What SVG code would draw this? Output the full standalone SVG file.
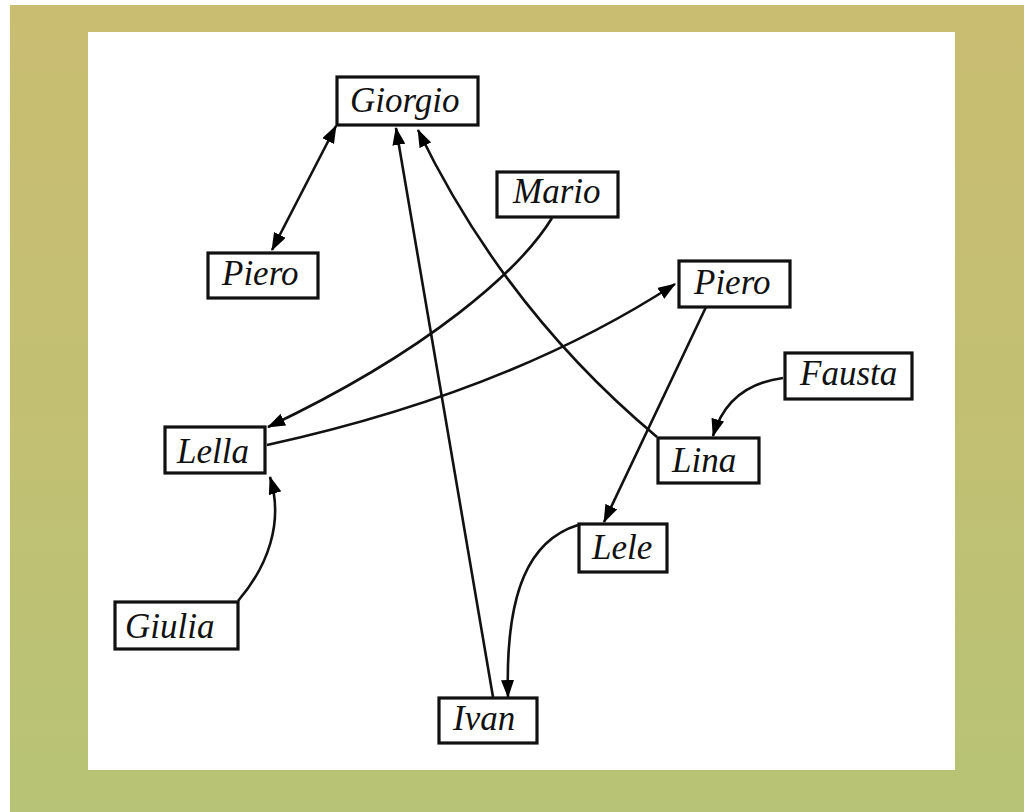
<svg xmlns="http://www.w3.org/2000/svg" width="1024" height="812" viewBox="0 0 1024 812">
<defs>
<linearGradient id="bg" x1="0" y1="0" x2="0" y2="1">
<stop offset="0" stop-color="#c9bd72"/>
<stop offset="0.5" stop-color="#c2bf72"/>
<stop offset="1" stop-color="#b7c376"/>
</linearGradient>
<marker id="ah" markerWidth="18" markerHeight="13" refX="17" refY="6.5" orient="auto-start-reverse" markerUnits="userSpaceOnUse">
<path d="M0,0 L18,6.5 L0,13 z" fill="#000"/>
</marker>
<style>
.box{fill:#fff;stroke:#111;stroke-width:3.2}
.lbl{font-family:"Liberation Serif","Times New Roman",serif;font-style:italic;font-size:35px;fill:#111}
.edge{fill:none;stroke:#111;stroke-width:2.6}
</style>
</defs>
<rect x="0" y="0" width="1024" height="812" fill="#fff"/>
<rect x="10" y="5" width="1014" height="807" fill="url(#bg)"/>
<rect x="88" y="32" width="867" height="738" fill="#fff"/>

<g id="connectors">
<path class="edge" d="M272,250 L336,126" marker-start="url(#ah)" marker-end="url(#ah)"/>
<path class="edge" d="M493,697 L396,128" marker-end="url(#ah)"/>
<path class="edge" d="M657,437 Q505,310 418,130" marker-end="url(#ah)"/>
<path class="edge" d="M552,218 C520,270 430,350 268,427" marker-end="url(#ah)"/>
<path class="edge" d="M267,445 Q509,392 675,284" marker-end="url(#ah)"/>
<path class="edge" d="M706,307 L604,522" marker-end="url(#ah)"/>
<path class="edge" d="M783,378 Q728,385 713,436" marker-end="url(#ah)"/>
<path class="edge" d="M238,601 C268,566 284,522 270,477" marker-end="url(#ah)"/>
<path class="edge" d="M578,525 C530,540 505,590 508,697" marker-end="url(#ah)"/>
</g>

<g id="giorgio"><rect class="box" x="337" y="77" width="141" height="48"/><text class="lbl" x="350" y="112">Giorgio</text></g>
<g id="piero1"><rect class="box" x="208" y="253" width="110" height="45"/><text class="lbl" x="222" y="285">Piero</text></g>
<g id="mario"><rect class="box" x="497" y="172" width="121" height="45"/><text class="lbl" x="513" y="203">Mario</text></g>
<g id="piero2"><rect class="box" x="679" y="261" width="111" height="46"/><text class="lbl" x="694" y="294">Piero</text></g>
<g id="fausta"><rect class="box" x="785" y="353" width="127" height="46"/><text class="lbl" x="800" y="385">Fausta</text></g>
<g id="lina"><rect class="box" x="658" y="438" width="101" height="45"/><text class="lbl" x="672" y="472">Lina</text></g>
<g id="lella"><rect class="box" x="165" y="427" width="100" height="46"/><text class="lbl" x="177" y="463">Lella</text></g>
<g id="giulia"><rect class="box" x="115" y="602" width="123" height="47"/><text class="lbl" x="125" y="638">Giulia</text></g>
<g id="lele"><rect class="box" x="579" y="524" width="88" height="48"/><text class="lbl" x="592" y="559">Lele</text></g>
<g id="ivan"><rect class="box" x="439" y="698" width="98" height="45"/><text class="lbl" x="453" y="730">Ivan</text></g>
</svg>
